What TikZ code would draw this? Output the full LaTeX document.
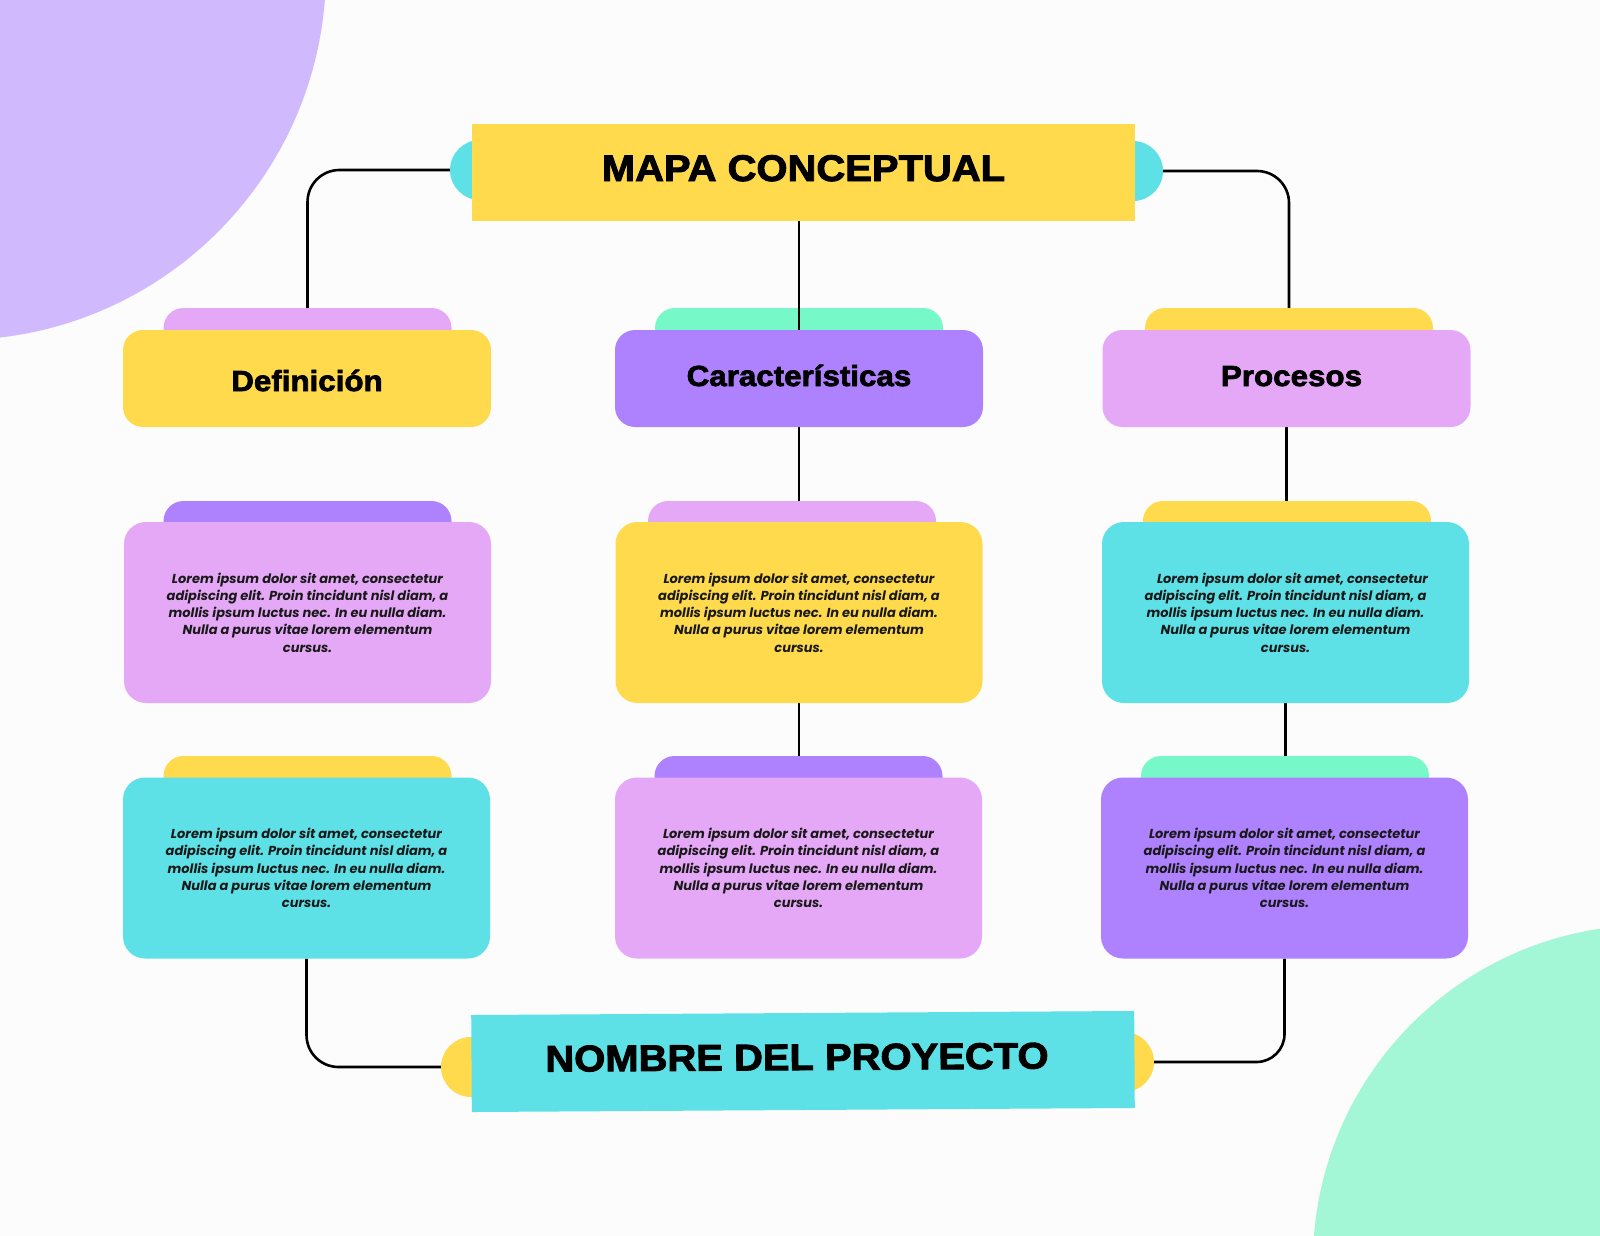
\documentclass[tikz,border=0pt]{standalone}
\usepackage{fontspec}
\setmainfont{Poppins}
\usepackage{tikz}
\usetikzlibrary{positioning}
\usetikzlibrary{calc}
\newfontfamily\heavyfont{Liberation Sans Bold}[FakeBold=2.5,FakeStretch=1.08]
\newfontfamily\bodyfont{Poppins}
\definecolor{paper}{HTML}{FCFCFC}
\definecolor{sun}{HTML}{FFDA4D}
\definecolor{aqua}{HTML}{5DE1E6}
\definecolor{orchid}{HTML}{E5A8F7}
\definecolor{lilac}{HTML}{AE82FE}
\definecolor{mint}{HTML}{77F8C8}
\definecolor{lavender}{HTML}{D1B9FD}
\definecolor{seafoam}{HTML}{A3F7D7}
\pgfdeclarelayer{backlayer}
\pgfdeclarelayer{tablayer}
\pgfdeclarelayer{edgelayer}
\pgfdeclarelayer{nodelayer}
\pgfsetlayers{backlayer,tablayer,edgelayer,nodelayer,main}
\tikzset{banner/.style={rectangle, inner sep=0pt, minimum width=663pt, minimum height=97pt, text height=27pt, text depth=10pt, font=\heavyfont\fontsize{37}{40}\selectfont}}
\tikzset{knob/.style={circle, inner sep=0pt, minimum size=60pt}}
\tikzset{head/.style={rectangle, rounded corners=20pt, inner sep=0pt, minimum width=368pt, minimum height=97pt, text height=21pt, text depth=6pt, font=\heavyfont\fontsize{29}{32}\selectfont}}
\tikzset{tab/.style={rectangle, rounded corners=20pt, inner sep=0pt, minimum width=288pt, minimum height=44pt}}
\tikzset{card/.style={rectangle, rounded corners=22pt, inner sep=0pt, minimum width=367pt, minimum height=181pt, align=center, text=black!90, font=\bodyfont\bfseries\itshape\fontsize{13}{17.2}\selectfont}}
\tikzset{wire/.style={line width=2.6pt, rounded corners=32pt}}
\newcommand{\loremtext}{Lorem ipsum dolor sit amet, consectetur\\adipiscing elit. Proin tincidunt nisl diam, a\\mollis ipsum luctus nec. In eu nulla diam.\\Nulla a purus vitae lorem elementum\\cursus.}

\begin{document}
\begin{tikzpicture}[x=1pt, y=-1pt]
	\useasboundingbox (0,0) rectangle (1600,1236);
	\begin{pgfonlayer}{backlayer}
		\fill [paper] (0,0) rectangle (1600,1236);
		\clip (0,0) rectangle (1600,1236);
		\fill [lavender] (-43,-29) circle [radius=369pt];
		\fill [seafoam] (1650,1262) circle [radius=337pt];
	\end{pgfonlayer}
	\begin{pgfonlayer}{tablayer}
		\node [style=knob, fill=aqua] (1) at (480, 170) {};
		\node [style=knob, fill=aqua] (2) at (1133, 171) {};
		\node [style=tab, fill=orchid] (6) at (307.5, 330) {};
		\node [style=tab, fill=mint] (7) at (799, 330) {};
		\node [style=tab, fill=sun] (8) at (1289, 330) {};
		\node [style=tab, fill=lilac] (12) at (307.5, 523) {};
		\node [style=tab, fill=orchid] (13) at (792, 523) {};
		\node [style=tab, fill=sun] (14) at (1287, 523) {};
		\node [style=tab, fill=sun] (18) at (307.5, 778) {};
		\node [style=tab, fill=lilac] (19) at (798.5, 778) {};
		\node [style=tab, fill=mint] (20) at (1285, 778) {};
		\node [style=knob, fill=sun] (22) at (471, 1067) {};
		\node [style=knob, fill=sun] (23) at (1124, 1062) {};
	\end{pgfonlayer}
	\begin{pgfonlayer}{nodelayer}
		\node [style=banner, fill=sun] (0) at (803.5, 172.5) {MAPA CONCEPTUAL};
		\node [style=head, fill=sun] (3) at (307, 378.5) {\raisebox{-5pt}{Definición}};
		\node [style=head, fill=lilac] (4) at (799, 378.5) {Características};
		\node [style=head, fill=orchid] (5) at (1286.5, 378.5) {\hspace{10pt}Procesos};
		\node [style=card, fill=orchid] (9) at (307.5, 612.5) {\loremtext};
		\node [style=card, fill=sun] (10) at (799, 612.5) {\loremtext};
		\node [style=card, fill=aqua] (11) at (1285.5, 612.5) {\hspace{14pt}\loremtext};
		\node [style=card, fill=aqua] (15) at (306.5, 868) {\loremtext};
		\node [style=card, fill=orchid] (16) at (798.5, 868) {\loremtext};
		\node [style=card, fill=lilac] (17) at (1284.5, 868) {\loremtext};
		\node [style=banner, fill=aqua, rotate=0.35] (21) at (803, 1061.5) {\hspace{-12pt}NOMBRE DEL PROYECTO};
	\end{pgfonlayer}
	\begin{pgfonlayer}{edgelayer}
		\draw [style=wire] (1.west) -| (6.north);
		\draw [style=wire] (2.east) -| (8.north);
		\draw [style=wire] (4.north |- 0.south) to (4.north);
		\draw [style=wire] (4.south) to (4.south |- 13.north);
		\draw [style=wire] (10.south) to (10.south |- 19.north);
		\draw [style=wire] (5.south) to (5.south |- 14.north);
		\draw [style=wire] (11.south) to (11.south |- 20.north);
		\draw [style=wire] (15.south) |- (22.west);
		\draw [style=wire, rounded corners=28pt] (17.south) |- (23.east);
	\end{pgfonlayer}
\end{tikzpicture}
\end{document}
